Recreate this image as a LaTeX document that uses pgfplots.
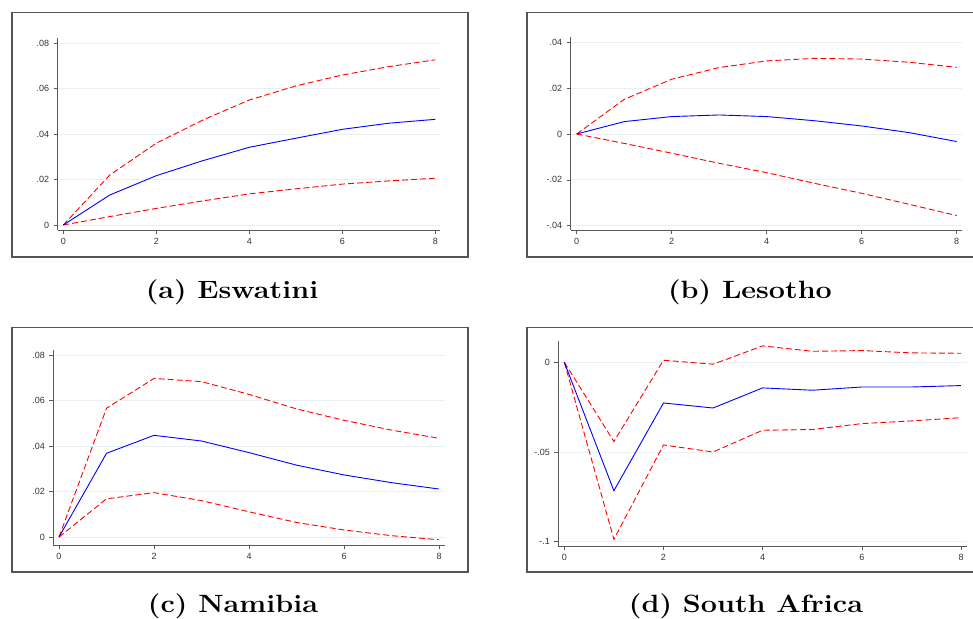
\documentclass[border=0pt]{standalone}
\usepackage{pgfplots}
\pgfplotsset{compat=1.18}
\usepackage{graphicx}
\usepackage{fontspec}
\newfontfamily\tickfont{Liberation Sans}
\definecolor{gridc}{RGB}{232,240,241}
\definecolor{axc}{RGB}{90,90,90}
\definecolor{framec}{RGB}{85,85,85}
\pgfplotsset{
  irf/.style={
    scale only axis,
    anchor=south west,
    axis lines*=left,
    axis line style={axc, line width=0.8pt, -},
    tick style={axc, line width=0.6pt},
    tick align=outside,
    major tick length=4pt,
    xtick={0,2,4,6,8},
    xticklabels={0,2,4,6,8},
    scaled y ticks=false,
    scaled x ticks=false,
    ymajorgrids,
    grid style={gridc, line width=0.7pt},
    tick label style={font=\fontsize{9}{10}\tickfont, text=black!80},
    xticklabel style={yshift=-1pt},
    yticklabel style={xshift=-1pt},
  },
  est/.style={blue, line width=0.9pt, no marks},
  ci/.style={red, line width=0.9pt, no marks, dash pattern=on 6pt off 3pt},
}
\newcommand{\subcap}[1]{\scalebox{1.15}[1]{\fontsize{25}{30}\selectfont\bfseries #1}}
\begin{document}
\begin{tikzpicture}[x=1pt,y=1pt]
\useasboundingbox (0,0) rectangle (973,618);
% frames
\draw[framec, line width=1.6pt] (11.7,361) rectangle (468,605.3);
\draw[framec, line width=1.6pt] (526.7,361) rectangle (980,605.3);
\draw[framec, line width=1.6pt] (11.7,46.3) rectangle (468,290.3);
\draw[framec, line width=1.6pt] (526.7,46.3) rectangle (980,290.3);
% (a) Eswatini
\begin{axis}[irf, at={(57.7pt,388pt)}, width=382.3pt, height=192pt,
  xmin=-0.12, xmax=8.1, ymin=-0.0022, ymax=0.0823,
  ytick={0,0.02,0.04,0.06,0.08}, yticklabels={0,.02,.04,.06,.08}]
\addplot[ci] coordinates {(0,0) (1,0.0220) (2,0.0360) (3,0.0462) (4,0.0550) (5,0.0612) (6,0.0660) (7,0.0697) (8,0.0727)};
\addplot[ci] coordinates {(0,0) (1,0.0037) (2,0.0073) (3,0.0106) (4,0.0137) (5,0.0159) (6,0.0180) (7,0.0194) (8,0.0206)};
\addplot[est] coordinates {(0,0) (1,0.0132) (2,0.0217) (3,0.0283) (4,0.0342) (5,0.0382) (6,0.0421) (7,0.0448) (8,0.0465)};
\end{axis}
% (b) Lesotho
\begin{axis}[irf, at={(570.7pt,388pt)}, width=391pt, height=192.7pt,
  xmin=-0.126, xmax=8.105, ymin=-0.0419, ymax=0.0422,
  ytick={-0.04,-0.02,0,0.02,0.04}, yticklabels={-.04,-.02,0,.02,.04}]
\addplot[ci] coordinates {(0,0) (1,0.0151) (2,0.0239) (3,0.0290) (4,0.0319) (5,0.0330) (6,0.0327) (7,0.0313) (8,0.0291)};
\addplot[ci] coordinates {(0,0) (1,-0.0041) (2,-0.0084) (3,-0.0128) (4,-0.0169) (5,-0.0215) (6,-0.0259) (7,-0.0307) (8,-0.0356)};
\addplot[est] coordinates {(0,0) (1,0.0054) (2,0.0076) (3,0.0083) (4,0.0076) (5,0.0058) (6,0.0035) (7,0.0006) (8,-0.0033)};
\end{axis}
% (c) Namibia
\begin{axis}[irf, at={(53.3pt,73pt)}, width=391.7pt, height=195pt,
  xmin=-0.12, xmax=8.126, ymin=-0.0035, ymax=0.0822,
  ytick={0,0.02,0.04,0.06,0.08}, yticklabels={0,.02,.04,.06,.08}]
\addplot[ci] coordinates {(0,0) (1,0.0566) (2,0.0697) (3,0.0683) (4,0.0627) (5,0.0563) (6,0.0513) (7,0.0470) (8,0.0434)};
\addplot[ci] coordinates {(0,0) (1,0.0168) (2,0.0195) (3,0.0160) (4,0.0111) (5,0.0064) (6,0.0031) (7,0.0006) (8,-0.0012)};
\addplot[est] coordinates {(0,0) (1,0.0368) (2,0.0447) (3,0.0422) (4,0.0371) (5,0.0316) (6,0.0273) (7,0.0239) (8,0.0211)};
\end{axis}
% (d) South Africa
\begin{axis}[irf, at={(558.3pt,72pt)}, width=408.4pt, height=205.3pt,
  xmin=-0.121, xmax=8.115, ymin=-0.1024, ymax=0.012,
  ytick={-0.1,-0.05,0}, yticklabels={-.1,-.05,0}]
\addplot[ci] coordinates {(0,0) (1,-0.0442) (2,0.0011) (3,-0.0011) (4,0.0091) (5,0.0061) (6,0.0065) (7,0.0052) (8,0.0050)};
\addplot[ci] coordinates {(0,0) (1,-0.0987) (2,-0.0461) (3,-0.0500) (4,-0.0379) (5,-0.0375) (6,-0.0342) (7,-0.0327) (8,-0.0309)};
\addplot[est] coordinates {(0,0) (1,-0.0716) (2,-0.0227) (3,-0.0255) (4,-0.0143) (5,-0.0156) (6,-0.0138) (7,-0.0138) (8,-0.0130)};
\end{axis}
% captions
\node[anchor=base] at (232,319.5) {\subcap{(a) Eswatini}};
\node[anchor=base] at (750,319.5) {\subcap{(b) Lesotho}};
\node[anchor=base] at (233,5.7) {\subcap{(c) Namibia}};
\node[anchor=base] at (746,5.7) {\subcap{(d) South Africa}};
\end{tikzpicture}
\end{document}
